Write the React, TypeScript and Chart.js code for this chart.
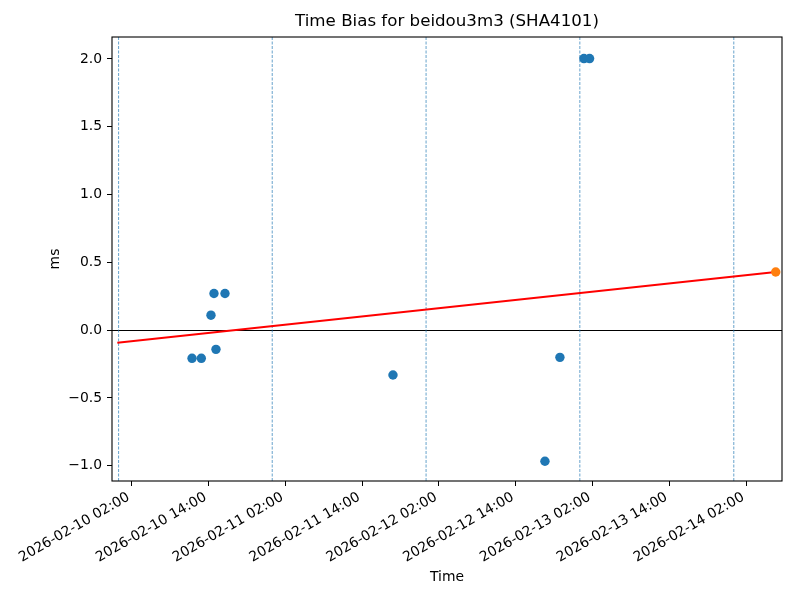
import React, { useEffect, useRef } from "react";
import { Chart, registerables } from "chart.js";

Chart.register(...registerables);

// x values are hours since 2026-02-10 00:00
const xTickHours = [2, 14, 26, 38, 50, 62, 74, 86, 98];
const xTickLabels = [
  "2026-02-10 02:00",
  "2026-02-10 14:00",
  "2026-02-11 02:00",
  "2026-02-11 14:00",
  "2026-02-12 02:00",
  "2026-02-12 14:00",
  "2026-02-13 02:00",
  "2026-02-13 14:00",
  "2026-02-14 02:00",
];
const yTicks = [-1.0, -0.5, 0.0, 0.5, 1.0, 1.5, 2.0];

const biasHours = [11.42, 12.87, 14.38, 14.85, 15.16, 16.57, 42.81, 66.55, 68.89, 72.64, 73.52];
const biasValues = [-0.208, -0.208, 0.11, 0.27, -0.142, 0.27, -0.331, -0.967, -0.201, 2.003, 2.003];

const predHours = [102.6];
const predValues = [0.429];

const fitHours = [-0.25, 102.6];
const fitValues = [-0.094, 0.429];

const dayMarkHours = [-0.05, 23.95, 47.98, 72.0, 96.05];

const xMin = -1.08;
const xMax = 103.58;
const yMin = -1.113;
const yMax = 2.162;

const FONT = "'DejaVu Sans', sans-serif";

export default function App() {
  const ref = useRef<HTMLCanvasElement | null>(null);

  useEffect(() => {
    document.body.style.margin = "0";
    const canvas = ref.current;
    if (!canvas) return;

    const dashed = dayMarkHours.map((h) => ({
      type: "line" as const,
      data: [
        { x: h, y: yMin },
        { x: h, y: yMax },
      ],
      borderColor: "rgba(31,119,180,0.85)",
      borderWidth: 0.8,
      borderDash: [3, 1.5],
      pointRadius: 0,
      showLine: true,
      order: 4,
    }));

    const frame = {
      id: "frame",
      afterDatasetsDraw(chart: any) {
        const { ctx, chartArea } = chart;
        ctx.save();
        ctx.strokeStyle = "#000";
        ctx.lineWidth = 1.1;
        ctx.strokeRect(chartArea.left, chartArea.top, chartArea.right - chartArea.left, chartArea.bottom - chartArea.top);
        ctx.restore();
      },
    };

    const chart = new Chart(canvas, {
      type: "scatter",
      data: {
        datasets: [
          ...dashed,
          {
            type: "line" as const,
            data: fitHours.map((h, i) => ({ x: h, y: fitValues[i] })),
            borderColor: "#ff0000",
            borderWidth: 2,
            pointRadius: 0,
            showLine: true,
            order: 2,
          },
          {
            data: biasHours.map((h, i) => ({ x: h, y: biasValues[i] })),
            backgroundColor: "#1f77b4",
            borderWidth: 0,
            pointRadius: 4.7,
            order: 1,
          },
          {
            data: predHours.map((h, i) => ({ x: h, y: predValues[i] })),
            backgroundColor: "#ff7f0e",
            borderWidth: 0,
            pointRadius: 4.7,
            order: 0,
          },
        ] as any,
      },
      options: {
        animation: false,
        responsive: false,
        maintainAspectRatio: false,
        layout: { padding: { left: 0, right: 18, top: 0, bottom: 0 } },
        plugins: {
          legend: { display: false },
          tooltip: { enabled: false },
          title: {
            display: true,
            text: "Time Bias for beidou3m3 (SHA4101)",
            fullSize: false,
            color: "#000",
            font: { family: FONT, size: 16.67, weight: "normal" as any },
            padding: { top: 12, bottom: 5 },
          },
        },
        scales: {
          x: {
            type: "linear",
            min: xMin,
            max: xMax,
            afterBuildTicks: (scale: any) => {
              scale.ticks = xTickHours.map((v) => ({ value: v }));
            },
            afterFit: (scale: any) => {
              scale.height = 119;
            },
            ticks: {
              autoSkip: false,
              minRotation: 30,
              maxRotation: 30,
              padding: 3,
              labelOffset: -3,
              color: "#000",
              font: { family: FONT, size: 13.9 },
              callback: (v: any) => {
                const i = xTickHours.indexOf(Number(v));
                return i >= 0 ? xTickLabels[i] : "";
              },
            },
            grid: {
              display: true,
              drawOnChartArea: false,
              drawTicks: true,
              tickLength: 5,
              tickColor: "#000",
              tickWidth: 1,
            },
            border: { display: false },
            title: {
              display: true,
              text: "Time",
              color: "#000",
              font: { family: FONT, size: 13.9 },
              padding: { top: 0, bottom: 14 },
            },
          },
          y: {
            type: "linear",
            min: yMin,
            max: yMax,
            afterBuildTicks: (scale: any) => {
              scale.ticks = yTicks.map((v) => ({ value: v }));
            },
            afterFit: (scale: any) => {
              scale.width = 112;
            },
            ticks: {
              padding: 5,
              color: "#000",
              font: { family: FONT, size: 13.9 },
              callback: (v: any) => {
                const n = Number(v);
                const s = Math.abs(n).toFixed(1);
                return n < 0 ? "\u2212" + s : s;
              },
            },
            grid: {
              display: true,
              drawOnChartArea: true,
              drawTicks: true,
              tickLength: 5,
              tickColor: "#000",
              tickWidth: 1,
              color: (ctx: any) => (ctx.tick && ctx.tick.value === 0 ? "#000" : "rgba(0,0,0,0)"),
              lineWidth: 1,
            },
            border: { display: false },
            title: {
              display: true,
              text: "ms",
              color: "#000",
              font: { family: FONT, size: 13.9 },
              padding: { top: 47, bottom: 0 },
            },
          },
        },
      },
      plugins: [frame],
    });

    return () => chart.destroy();
  }, []);

  return (
    <div style={{ width: 800, height: 600 }}>
      <canvas ref={ref} width={800} height={600} style={{ display: "block" }} />
    </div>
  );
}
